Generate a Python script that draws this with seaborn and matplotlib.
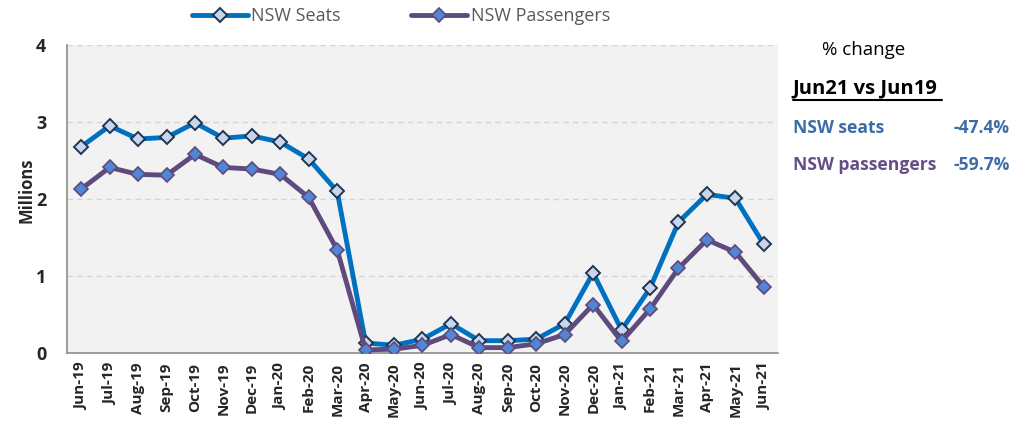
import pandas as pd
import numpy as np
import matplotlib.pyplot as plt
import seaborn as sns
from matplotlib.lines import Line2D

sns.set_theme(style="white")
plt.rcParams["font.family"] = ["Open Sans", "DejaVu Sans"]

months = ["Jun-19", "Jul-19", "Aug-19", "Sep-19", "Oct-19", "Nov-19", "Dec-19",
          "Jan-20", "Feb-20", "Mar-20", "Apr-20", "May-20", "Jun-20", "Jul-20",
          "Aug-20", "Sep-20", "Oct-20", "Nov-20", "Dec-20", "Jan-21", "Feb-21",
          "Mar-21", "Apr-21", "May-21", "Jun-21"]
seats = [2.68, 2.95, 2.78, 2.80, 2.99, 2.79, 2.82, 2.74, 2.52, 2.10,
         0.13, 0.10, 0.18, 0.38, 0.16, 0.16, 0.18, 0.38, 1.04, 0.30,
         0.84, 1.70, 2.06, 2.01, 1.41]
passengers = [2.13, 2.41, 2.32, 2.31, 2.58, 2.41, 2.39, 2.32, 2.02, 1.34,
              0.04, 0.05, 0.10, 0.24, 0.07, 0.07, 0.12, 0.24, 0.63, 0.15,
              0.57, 1.10, 1.47, 1.31, 0.86]

df = pd.DataFrame({"idx": np.arange(len(months)), "seats": seats, "passengers": passengers})

fig = plt.figure(figsize=(10.23, 4.21), dpi=100)
ax = fig.add_axes([0.0655, 0.1615, 0.695, 0.7315])
ax.set_facecolor("#F2F2F2")

sns.lineplot(data=df, x="idx", y="seats", ax=ax, color="#0070C0", linewidth=3.5,
             marker="D", markersize=7.5, markerfacecolor="#C6D6EC",
             markeredgecolor="#1F3552", markeredgewidth=1.4, label="NSW Seats", zorder=3)
sns.lineplot(data=df, x="idx", y="passengers", ax=ax, color="#5F4A7E", linewidth=3.5,
             marker="D", markersize=7.5, markerfacecolor="#4F86D6",
             markeredgecolor="#5F4A7E", markeredgewidth=1.2, label="NSW Passengers", zorder=3)

ax.set_xlim(-0.5, len(months) - 0.5)
ax.set_ylim(0, 4)
ax.set_yticks([0, 1, 2, 3, 4])
ax.set_yticklabels(["0", "1", "2", "3", "4"], fontsize=13, fontweight="bold")
ax.yaxis.grid(True, color="#D4D4D4", linestyle=(0, (4, 3)), linewidth=1)
ax.set_axisbelow(True)

ax.set_xticks(np.arange(len(months)))
ax.set_xticklabels(months, rotation=90, fontsize=11, fontweight="bold")
ax.set_xticks(np.arange(len(months) + 1) - 0.5, minor=True)
ax.tick_params(axis="x", which="major", length=0, pad=7)
ax.tick_params(axis="x", which="minor", length=5, width=1, color="#8C8C8C", direction="out")
ax.tick_params(axis="y", which="major", length=5, width=1, color="#8C8C8C", direction="out", pad=10)

ax.set_xlabel("")
ax.set_ylabel("Millions", fontsize=12, fontweight="bold", labelpad=0)
ax.yaxis.set_label_coords(-0.045, 0.53)

for side in ["top", "right"]:
    ax.spines[side].set_visible(False)
for side in ["left", "bottom"]:
    ax.spines[side].set_color("#8C8C8C")
    ax.spines[side].set_linewidth(1.2)

leg = ax.legend(loc="center", bbox_to_anchor=(0.392, 0.962), bbox_transform=fig.transFigure,
                ncol=2, frameon=False, fontsize=13, handlelength=3.1, handletextpad=0.2,
                columnspacing=3.9)
for t in leg.get_texts():
    t.set_color("#595959")

# side panel
fig.text(0.804, 0.881, "% change", fontsize=13.5, color="black", va="center")
fig.text(0.775, 0.791, "Jun21 vs Jun19", fontsize=14.5, fontweight="bold", color="black", va="center")
fig.add_artist(Line2D([0.775, 0.921], [0.762, 0.762], color="black", linewidth=1.5))
fig.text(0.775, 0.696, "NSW seats", fontsize=12.6, fontweight="bold", color="#3C6DA6", va="center")
fig.text(0.987, 0.696, "-47.4%", fontsize=12.6, fontweight="bold", color="#3C6DA6", va="center", ha="right")
fig.text(0.775, 0.608, "NSW passengers", fontsize=12.6, fontweight="bold", color="#654E86", va="center")
fig.text(0.987, 0.608, "-59.7%", fontsize=12.6, fontweight="bold", color="#3C6DA6", va="center", ha="right")

fig.savefig("out.png", dpi=100)
